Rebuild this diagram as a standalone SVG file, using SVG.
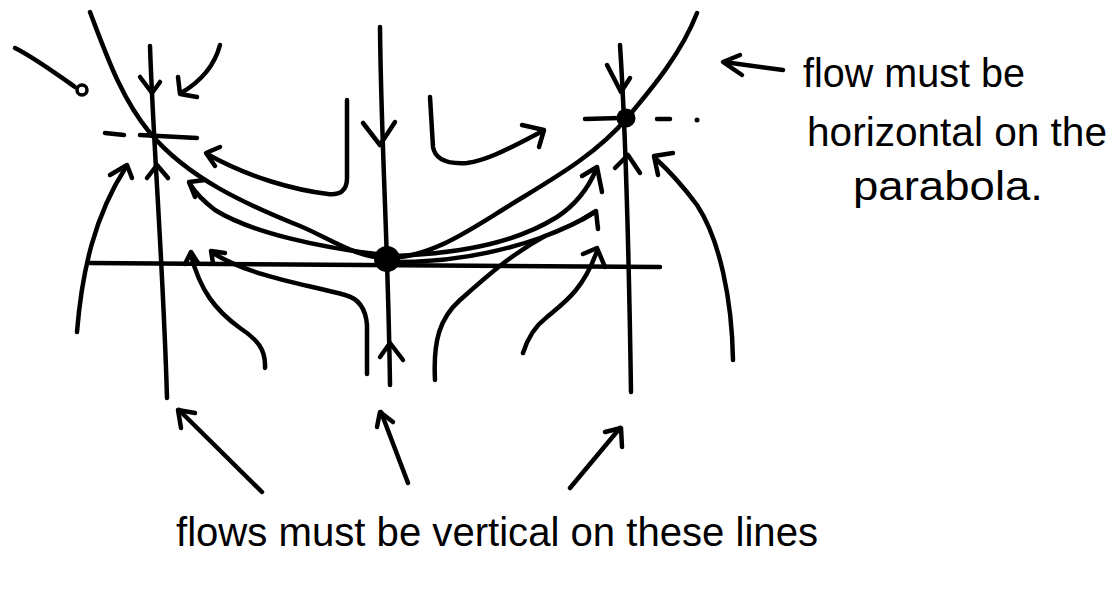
<svg xmlns="http://www.w3.org/2000/svg" width="1119" height="592" viewBox="0 0 1119 592">
<style>
.s{fill:none;stroke:#000;stroke-width:4.5;stroke-linecap:round;stroke-linejoin:round}
.h{fill:none;stroke:#000;stroke-width:4.5;stroke-linecap:round;stroke-linejoin:round}
.t{font-family:"Liberation Sans",Arial,sans-serif;font-size:40px;fill:#000}
.dot{fill:#000;stroke:none}
</style>
<rect width="1119" height="592" fill="#fff"/>

<g id="nullclines">
  <path id="parabola" class="s" d="M90,12 C106,54 121,98 150,133 C188,178 245,204 300,226 C329,238 356,258 387,258 C430,258 470,230 507,207 C549,181 595,156 627,118 C654,86 682,52 697,13"/>
  <path id="line-left" class="s" d="M150,46 C153,140 163,260 167,398"/>
  <path id="line-center" class="s" d="M380,27 C381,140 388,240 390,385"/>
  <path id="line-right" class="s" d="M620,45 C625,120 629,260 631,392"/>
  <path id="axis" class="s" d="M90,263 L660,267"/>
</g>

<g id="fp-left">
  <path class="s" d="M105,133 L124,135 M140,135 L197,138"/>
  <path class="h" d="M140,77 L152,93 L160,82"/>
  <path class="h" d="M147,178 L157,165 L168,178"/>
</g>

<g id="fp-center">
  <circle class="dot" cx="387" cy="259" r="13"/>
  <path class="h" d="M363,123 L380,145 L395,122"/>
  <path class="h" d="M380,357 L390,343 L403,360"/>
</g>

<g id="fp-right">
  <circle class="dot" cx="626" cy="118" r="9.5"/>
  <path class="s" d="M585,119 L620,118 M657,119 L670,119"/>
  <circle class="dot" cx="697" cy="120" r="2.5"/>
  <path class="h" d="M607,65 L621,92 L630,78"/>
  <path class="h" d="M615,168 L628,155 L640,173"/>
</g>

<g id="connectors">
  <path class="s" d="M15,48 C35,58 55,73 75,87"/>
  <circle cx="82" cy="90" r="5" fill="none" stroke="#000" stroke-width="3.5"/>
  <path class="s" d="M220,45 Q212,75 181,93"/>
  <path class="h" d="M178,77 L180,94 L197,97"/>
  <path class="s" d="M347,100 L347,178 Q347,196 328,194 C295,190 250,178 207,154"/>
  <path class="h" d="M220,147 L206,153 L215,166"/>
  <path class="s" d="M385,255 C320,248 250,232 215,210 Q198,197 190,184"/>
  <path class="h" d="M205,180 L189,182 L195,197"/>
  <path class="s" d="M265,368 C266,350 258,340 240,328 C215,310 200,290 191,255"/>
  <path class="h" d="M185,264 L191,252 L198,263"/>
  <path class="s" d="M367,374 L367,325 Q365,300 345,295 C300,283 250,276 213,253"/>
  <path class="h" d="M213,263 L211,251 L225,253"/>
  <path class="s" d="M77,332 C82,270 95,215 126,167"/>
  <path class="h" d="M110,175 L127,165 L132,178"/>
  <path class="s" d="M430,97 L433,147 Q436,165 467,163 C490,160 515,145 543,131"/>
  <path class="h" d="M522,125 L544,130 L539,147"/>
  <path class="s" d="M395,256 C470,253 520,240 557,217 Q583,200 596,170"/>
  <path class="h" d="M582,176 L597,167 L602,192"/>
  <path class="s" d="M397,262 C450,262 500,252 540,238 Q575,225 595,212"/>
  <path class="h" d="M583,219 L596,211 L598,229"/>
  <path class="s" d="M435,380 C433,340 440,318 460,300 C485,278 510,255 545,236"/>
  <path class="s" d="M523,353 Q530,330 547,317 C565,302 583,290 597,251"/>
  <path class="h" d="M583,254 L597,248 L605,267"/>
  <path class="s" d="M733,360 C732,300 720,240 697,205 Q677,178 655,158"/>
  <path class="h" d="M673,153 L654,156 L658,175"/>
</g>

<g id="label-parabola">
  <path class="s" d="M783,70 L724,62"/>
  <path class="h" d="M740,55 L723,62 L742,75"/>
  <text class="t" x="803" y="87" textLength="222" lengthAdjust="spacingAndGlyphs">flow must be</text>
  <text class="t" x="807" y="146" textLength="300" lengthAdjust="spacingAndGlyphs">horizontal on the</text>
  <text class="t" x="853" y="200" textLength="190" lengthAdjust="spacingAndGlyphs">parabola.</text>
</g>

<g id="label-lines">
  <path class="s" d="M262,492 L179,410 M408,483 L381,412 M570,488 L620,428"/>
  <path class="h" d="M181,428 L178,410 L195,413"/>
  <path class="h" d="M377,427 L380,412 L393,422"/>
  <path class="h" d="M605,432 L621,428 L622,447"/>
  <text class="t" x="176" y="546" textLength="642" lengthAdjust="spacingAndGlyphs">flows must be vertical on these lines</text>
</g>
</svg>
